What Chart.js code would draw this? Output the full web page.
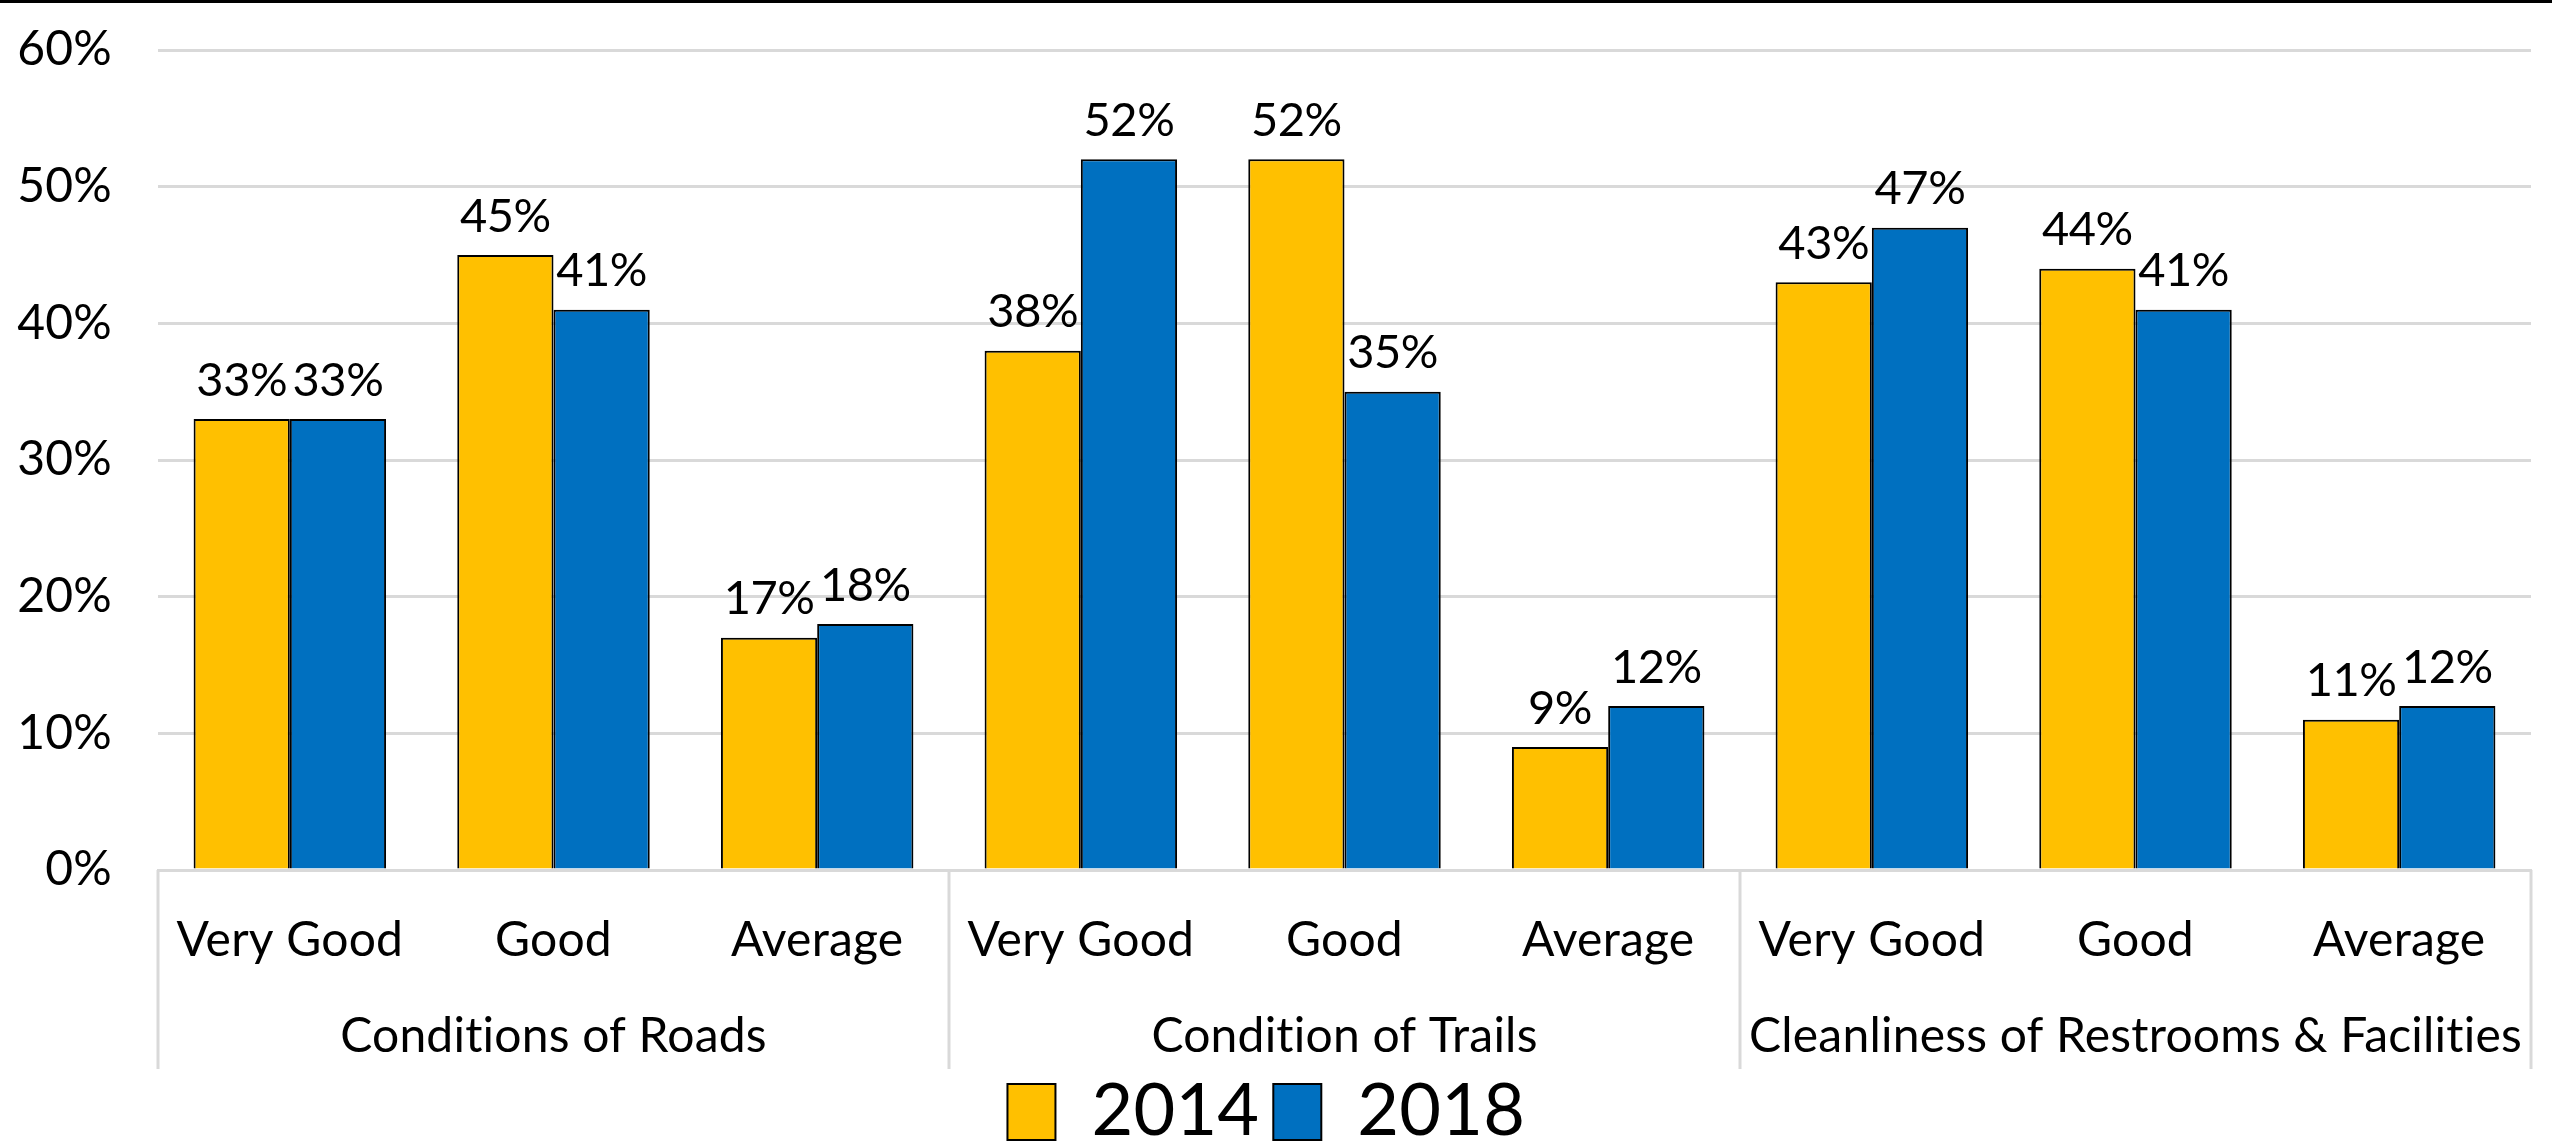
<!DOCTYPE html>
<html>
<head>
<meta charset="utf-8">
<script src="https://cdn.jsdelivr.net/npm/chart.js@4"></script>
<style>
  html, body { margin: 0; padding: 0; background: #fff; }
  #wrap { width: 2552px; height: 1141px; box-sizing: border-box; border-top: 3px solid #000; position: relative; }
  #grafico { display: block; }
</style>
</head>
<body>
<div id="wrap"><canvas id="grafico" width="2552" height="1138"></canvas></div>
<script>
const grupos = ["Conditions of Roads", "Condition of Trails", "Cleanliness of Restrooms & Facilities"];
const notas = ["Very Good", "Good", "Average"];
const anos = ["2014", "2018"];
const valores2014 = [33, 45, 17, 38, 52, 9, 43, 44, 11];
const valores2018 = [33, 41, 18, 52, 35, 12, 47, 41, 12];
const ticksY = [0, 10, 20, 30, 40, 50, 60];

const fonte = "Lato, 'Liberation Sans', sans-serif";
const cinza = "#d9d9d9";

// 9 categorias: as 3 notas repetidas em cada grupo
const categorias = [];
grupos.forEach(() => notas.forEach((n) => categorias.push(n)));

// espaçamento mínimo entre letras só pra não juntar "ti" em ligadura
const semLigaduraPlugin = {
  id: "semLigadura",
  beforeDraw(chart) {
    chart.ctx.letterSpacing = "0.2px";
  },
};

// rótulos de valor acima das barras
const rotulosPlugin = {
  id: "rotulos",
  afterDatasetsDraw(chart) {
    const ctx = chart.ctx;
    ctx.save();
    ctx.font = "47px " + fonte;
    ctx.letterSpacing = "-0.5px";
    ctx.fillStyle = "#000";
    ctx.textAlign = "center";
    ctx.textBaseline = "bottom";
    chart.data.datasets.forEach((ds, i) => {
      const meta = chart.getDatasetMeta(i);
      meta.data.forEach((barra, j) => {
        ctx.fillText(ds.data[j] + "%", barra.x, barra.y - 15);
      });
    });
    ctx.restore();
  },
};

// segundo nível do eixo x: linhas entre grupos e nome de cada grupo
const gruposPlugin = {
  id: "gruposEixo",
  afterDraw(chart) {
    const x = chart.scales.x;
    const n = notas.length;
    const meio = (x.getPixelForValue(1) - x.getPixelForValue(0)) / 2;
    const ctx = chart.ctx;
    ctx.save();
    ctx.strokeStyle = cinza;
    ctx.lineWidth = 3;
    for (let k = 0; k <= grupos.length; k++) {
      const px = k < grupos.length
        ? x.getPixelForValue(k * n) - meio
        : x.getPixelForValue(categorias.length - 1) + meio;
      ctx.beginPath();
      ctx.moveTo(px, x.top);
      ctx.lineTo(px, x.top + 199);
      ctx.stroke();
    }
    ctx.font = "48px " + fonte;
    ctx.fillStyle = "#000";
    ctx.textAlign = "center";
    ctx.textBaseline = "middle";
    grupos.forEach((g, k) => {
      const centro = x.getPixelForValue(k * n + (n - 1) / 2);
      ctx.fillText(g, centro, x.top + 167);
    });
    ctx.restore();
  },
};

new Chart(document.getElementById("grafico"), {
  type: "bar",
  data: {
    labels: categorias,
    datasets: [
      {
        label: anos[0],
        data: valores2014,
        backgroundColor: "#ffc000",
        borderColor: "#000",
        borderWidth: 2,
        categoryPercentage: 0.73,
        barPercentage: 1.0,
      },
      {
        label: anos[1],
        data: valores2018,
        backgroundColor: "#0070c0",
        borderColor: "#000",
        borderWidth: 2,
        categoryPercentage: 0.73,
        barPercentage: 1.0,
      },
    ],
  },
  options: {
    responsive: false,
    animation: false,
    layout: {
      padding: { top: 47, right: 21, left: 0, bottom: -17 },
    },
    plugins: {
      tooltip: { enabled: false },
      legend: {
        position: "bottom",
        labels: {
          color: "#000",
          font: { family: fonte, size: 72 },
          boxWidth: 48,
          boxHeight: 56,
          padding: 14,
          generateLabels(chart) {
            return chart.data.datasets.map((ds, i) => ({
              text: ds.label,
              fillStyle: ds.backgroundColor,
              strokeStyle: "#000",
              lineWidth: 2,
              datasetIndex: i,
            }));
          },
        },
      },
    },
    scales: {
      x: {
        grid: { display: false },
        border: { display: true, color: cinza, width: 3 },
        ticks: {
          color: "#000",
          font: { family: fonte, size: 48 },
          padding: 34,
          maxRotation: 0,
          autoSkip: false,
        },
        afterFit(s) {
          s.height = 192;
        },
      },
      y: {
        min: 0,
        max: 60,
        afterBuildTicks(s) {
          s.ticks = ticksY.map((v) => ({ value: v }));
        },
        grid: { color: cinza, lineWidth: 3, drawTicks: false },
        border: { display: false },
        ticks: {
          color: "#000",
          font: { family: fonte, size: 48 },
          padding: 46,
          callback: (v) => v + "%",
        },
        afterFit(s) {
          s.width = 158;
          s.paddingTop = 0;
          s.paddingBottom = 0;
        },
      },
    },
  },
  plugins: [semLigaduraPlugin, rotulosPlugin, gruposPlugin],
});
</script>
</body>
</html>
